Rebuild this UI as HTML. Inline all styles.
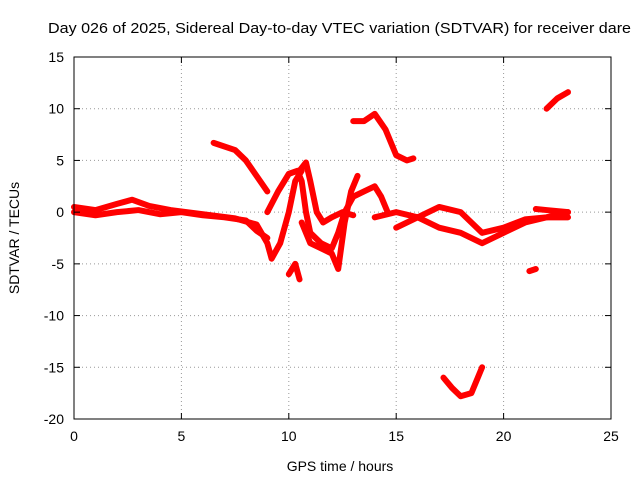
<!DOCTYPE html>
<html><head><meta charset="utf-8"><style>
body{margin:0;background:#fff}
svg{display:block;font-family:"Liberation Sans",sans-serif}
</style></head><body>
<svg id="chart" width="640" height="480" viewBox="0 0 640 480">
<rect width="640" height="480" fill="#fff"/>
<text x="48" y="33" font-size="15" textLength="583" lengthAdjust="spacingAndGlyphs">Day 026 of 2025, Sidereal Day-to-day VTEC variation (SDTVAR) for receiver dare</text>
<g id="grid"></g>
<g id="series"></g>
<rect x="74" y="57" width="537" height="362" fill="none" stroke="#000" stroke-width="1"/>
<g id="axes"></g>
<text x="340" y="471" font-size="14" text-anchor="middle">GPS time / hours</text>
<text transform="translate(19,238) rotate(-90)" font-size="14" text-anchor="middle">SDTVAR / TECUs</text>
</svg>
<script>
const xTicks=[0,5,10,15,20,25];
const yTicks=[15,10,5,0,-5,-10,-15,-20];
const trackA=[[0,0.5],[1,0.2],[2,0.8],[2.7,1.2],[3.5,0.6],[4.5,0.2],[6,-0.2],[7.5,-0.6],[8.5,-1.2],[9,-3],[9.2,-4.5],[9.6,-3],[10,0],[10.3,3],[10.6,4]];
const trackB=[[0,0],[1,-0.3],[2,0],[3,0.2],[4,-0.2],[5,0],[6,-0.3],[7,-0.5],[8,-0.8],[8.5,-1.8],[9,-2.5]];
const trackC=[[6.5,6.7],[7.5,6],[8,5],[8.5,3.5],[9,2]];
const trackD=[[9,0],[9.5,2],[10,3.7],[10.4,4],[10.6,3],[10.8,0],[11,-2],[11.5,-3],[12,-3.5],[12.3,-2],[12.6,0],[13,1.5],[13.5,2],[14,2.5],[14.3,1.5],[14.6,0]];
const trackE=[[10.5,4],[10.8,4.8],[11,3],[11.3,0],[11.6,-1],[12,-0.5],[12.5,0],[13,-0.3]];
const trackF=[[10,-6],[10.3,-5],[10.5,-6.5]];
const trackG=[[10.6,-1],[11,-3],[11.5,-3.5],[12,-4],[12.3,-5.5],[12.6,-1],[12.9,2],[13.2,3.5]];
const trackH=[[13,8.8],[13.5,8.8],[14,9.5],[14.5,8],[15,5.5],[15.5,5],[15.8,5.2]];
const trackI=[[14,-0.5],[15,0],[16,-0.5],[17,0.5],[18,0],[18.5,-1],[19,-2],[20,-1.5],[21,-0.7],[22,-0.5],[23,0]];
const trackJ=[[15,-1.5],[16,-0.5],[17,-1.5],[18,-2],[19,-3],[20,-2],[21,-1],[22,-0.5],[23,-0.5]];
const trackK=[[17.2,-16],[17.6,-17],[18,-17.8],[18.5,-17.5],[19,-15]];
const trackL=[[21.2,-5.7],[21.5,-5.5]];
const trackM=[[22,10],[22.5,11],[23,11.6]];
const trackN=[[21.5,0.3],[22,0.2],[23,0]];
const tracks=[trackA,trackB,trackC,trackD,trackE,trackF,trackG,trackH,trackI,trackJ,trackK,trackL,trackM,trackN];
const L=74,R=611,T=57,B=419;
const xs=v=>L+(v-0)/(25-0)*(R-L);
const ys=v=>B-(v+20)/(35)*(B-T);
const NS='http://www.w3.org/2000/svg';
const grid=document.getElementById('grid'),axes=document.getElementById('axes'),ser=document.getElementById('series');
function mk(t,a,p){const e=document.createElementNS(NS,t);for(const k in a)e.setAttribute(k,a[k]);p.appendChild(e);return e;}
xTicks.forEach(v=>{const x=xs(v);
 if(v>0&&v<25){const g=mk('line',{x1:x,x2:x,y1:T,y2:B,stroke:'#999','stroke-dasharray':'1,3'},grid);
 
 }
 const t1=mk('line',{x1:x,x2:x,y1:B,y2:B-6,stroke:'#000'},axes);
 
 
 const t2=mk('line',{x1:x,x2:x,y1:T,y2:T+6,stroke:'#000'},axes);
 
 
 const l=mk('text',{x:x,y:B+22,'font-size':14,'text-anchor':'middle'},axes);l.textContent=v;
 
 
});
yTicks.forEach(v=>{const y=ys(v);
 if(v>-20&&v<15){const g=mk('line',{x1:L,x2:R,y1:y,y2:y,stroke:'#999','stroke-dasharray':'1,3'},grid);
 
 }
 const t1=mk('line',{x1:L,x2:L+6,y1:y,y2:y,stroke:'#000'},axes);
 
 
 const t2=mk('line',{x1:R,x2:R-6,y1:y,y2:y,stroke:'#000'},axes);
 
 
 const l=mk('text',{x:L-10,y:y+5,'font-size':14,'text-anchor':'end'},axes);l.textContent=v;
 
 
});
tracks.forEach((tr,i)=>{
 const p=mk('polyline',{points:tr.map(d=>xs(d[0])+','+ys(d[1])).join(' '),fill:'none',stroke:'#f00','stroke-width':6,'stroke-linejoin':'round','stroke-linecap':'round'},ser);
 
 
});
</script>
</body></html>
